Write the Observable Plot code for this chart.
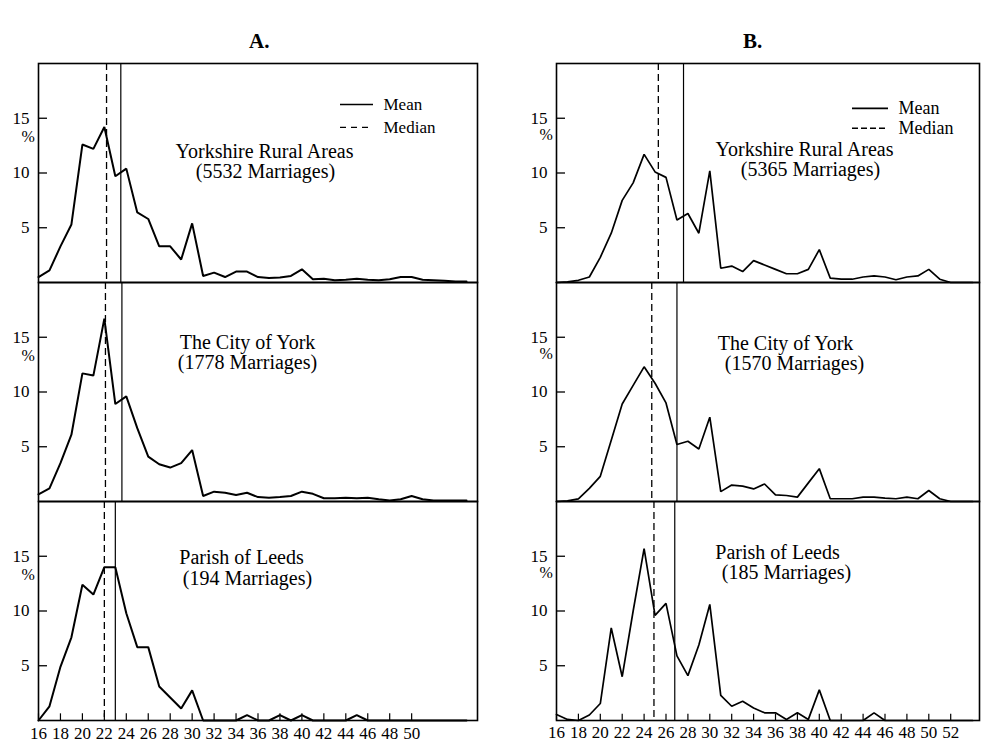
<!DOCTYPE html>
<html><head><meta charset="utf-8">
<script src="https://cdn.jsdelivr.net/npm/d3@7"></script>
<script src="https://cdn.jsdelivr.net/npm/@observablehq/plot@0.6"></script>
<style>
body{margin:0;background:#fff;}
#wrap{position:relative;width:981px;height:744px;overflow:hidden;font-family:"Liberation Serif",serif;background:#fff;}
.col{position:absolute;top:0;z-index:1;}
.title{position:absolute;top:29px;font-weight:bold;font-size:21px;font-family:"Liberation Serif",serif;z-index:5;color:#000;}
</style></head><body>
<div id="wrap">
  <div class="col" id="colA" style="left:0px"></div>
  <div class="col" id="colB" style="left:490px"></div>
  <div class="title" style="left:249px">A.</div>
  <div class="title" style="left:743px">B.</div>
</div>
<script>
// ---------- data ----------
const panels = ["rural", "york", "leeds"];
const placeNames = ["Yorkshire Rural Areas", "The City of York", "Parish of Leeds"];
const marriagesA = [5532, 1778, 194];
const marriagesB = [5365, 1570, 185];

const agesA = [16,17,18,19,20,21,22,23,24,25,26,27,28,29,30,31,32,33,34,35,36,37,38,39,40,41,42,43,44,45,46,47,48,49,50,51,52,53,54,55];
const ruralA = [0.5,1.1,3.3,5.3,12.6,12.2,14.2,9.7,10.4,6.4,5.8,3.3,3.3,2.1,5.4,0.6,0.9,0.5,1.0,1.0,0.5,0.4,0.45,0.6,1.2,0.3,0.35,0.2,0.25,0.35,0.25,0.2,0.3,0.5,0.5,0.25,0.2,0.15,0.1,0.1];
const yorkA  = [0.66,1.2,3.5,6.1,11.7,11.5,16.7,8.9,9.6,6.7,4.1,3.4,3.1,3.5,4.7,0.5,0.9,0.8,0.6,0.8,0.4,0.35,0.4,0.5,0.9,0.7,0.3,0.3,0.35,0.3,0.35,0.2,0.1,0.2,0.5,0.2,0.1,0.1,0.1,0.1];
const leedsA = [0,1.3,4.9,7.6,12.4,11.5,14.0,14.0,9.8,6.7,6.7,3.1,2.1,1.1,2.75,0,0,0,0,0.5,0,0,0.5,0,0.5,0,0,0,0,0.5,0,0,0,0,0,0,0,0,0,0];
const meanA   = [23.5, 23.6, 23.0];
const medianA = [22.2, 22.1, 22.0];

const agesB = [16,17,18,19,20,21,22,23,24,25,26,27,28,29,30,31,32,33,34,35,36,37,38,39,40,41,42,43,44,45,46,47,48,49,50,51,52,53,54];
const ruralB = [0,0.05,0.2,0.5,2.3,4.5,7.5,9.1,11.7,10.1,9.6,5.7,6.3,4.5,10.2,1.3,1.5,1.0,2.0,1.6,1.2,0.8,0.8,1.2,3.0,0.4,0.3,0.3,0.5,0.6,0.5,0.25,0.5,0.6,1.2,0.3,0,0,0];
const yorkB  = [0,0.05,0.24,1.2,2.3,5.6,8.9,10.6,12.3,10.8,9.0,5.2,5.5,4.8,7.7,0.9,1.5,1.4,1.15,1.6,0.6,0.55,0.4,1.7,3.0,0.25,0.25,0.25,0.4,0.4,0.3,0.25,0.4,0.25,1.0,0.25,0,0,0];
const leedsB = [0.55,0.1,0,0.5,1.55,8.45,4.0,10.0,15.7,9.6,10.7,5.9,4.1,6.9,10.6,2.3,1.3,1.75,1.15,0.7,0.7,0.1,0.7,0.1,2.8,0,0,0,0,0.7,0,0,0,0,0,0,0,0,0];
const meanB   = [27.6, 27.0, 26.8];
const medianB = [25.3, 24.7, 24.9];

const xTicksA = [16,18,20,22,24,26,28,30,32,34,36,38,40,42,44,46,48,50];
const xTicksB = [16,18,20,22,24,26,28,30,32,34,36,38,40,42,44,46,48,50,52];
const yTicks = [5, 10, 15];
const legendNames = ["Mean", "Median"];

// ---------- layout ----------
const H = 744, MT = 62;
const FONT = "Liberation Serif";

function column(cfg) {
  const {ages, series, means, medians, marriages, xTicks, xDomain, width, marginLeft, marginRight,
         marginBottom, labelPos, legend, lineWidth, pctY, xLabelDy} = cfg;
  const rows = [];
  series.forEach((s, i) => s.forEach((v, j) => rows.push({panel: panels[i], age: ages[j], pct: v})));
  const stats = panels.map((p, i) => ({panel: p, mean: means[i], median: medians[i]}));
  const plotW = width - marginLeft - marginRight;
  const panelH = (H - MT - marginBottom) / 3;
  const yAt = (dy) => 20 - dy / panelH * 20;

  const labelMarks = [];
  panels.forEach((p, i) => {
    const lp = labelPos[i];
    labelMarks.push(Plot.text([{panel: p, t: placeNames[i]}], {fy: "panel", text: "t", frameAnchor: "top-left",
      dx: lp[0], dy: lp[1], textAnchor: "middle", lineAnchor: "middle", fontSize: 20, fill: "black"}));
    labelMarks.push(Plot.text([{panel: p, t: `(${marriages[i]} Marriages)`}], {fy: "panel", text: "t", frameAnchor: "top-left",
      dx: lp[2], dy: lp[3], textAnchor: "middle", lineAnchor: "middle", fontSize: 20, fill: "black"}));
  });

  const legMarks = [];
  legendNames.forEach((name, k) => {
    const dy = legend.y[k];
    legMarks.push(Plot.tickY([{panel: "rural", v: yAt(dy)}], {y: "v", fy: "panel",
      insetLeft: legend.x1, insetRight: plotW - legend.x2, stroke: "black",
      strokeWidth: k === 0 ? 1.6 : 1.4, strokeDasharray: k === 0 ? null : legend.dash}));
    legMarks.push(Plot.text([{panel: "rural", t: name}], {fy: "panel", text: "t", frameAnchor: "top-left",
      dx: legend.tx, dy: dy, textAnchor: "start", lineAnchor: "middle", fontSize: legend.fs, fill: "black"}));
  });

  return Plot.plot({
    width, height: H, marginTop: MT, marginLeft, marginRight, marginBottom,
    x: {domain: xDomain, axis: null},
    y: {domain: [0, 20], axis: null},
    fy: {domain: panels, padding: 0, axis: null},
    style: {fontFamily: FONT, fontSize: "16px", color: "black", background: "white", overflow: "visible"},
    marks: [
      Plot.line(rows, {x: "age", y: "pct", fy: "panel", stroke: "black", strokeWidth: lineWidth, strokeLinejoin: "miter"}),
      Plot.ruleX(stats, {x: "median", fy: "panel", stroke: "black", strokeWidth: 1.3, strokeDasharray: "7,4"}),
      Plot.ruleX(stats, {x: "mean", fy: "panel", stroke: "black", strokeWidth: 1.2}),
      // y ticks (inward) and labels
      Plot.tickY(yTicks, {y: d => d, insetRight: plotW - 9, stroke: "black", strokeWidth: 1.3}),
      Plot.text(yTicks, {y: d => d, text: d => String(d), frameAnchor: "left", dx: -9, textAnchor: "end",
        lineAnchor: "middle", fontSize: 17, fill: "black", fontFamily: FONT}),
      Plot.text(["%"], {y: () => pctY, text: d => d, frameAnchor: "left", dx: -17, fontSize: 16, fill: "black", fontFamily: FONT}),
      // x ticks (inward) and labels on bottom panel
      Plot.tickX(xTicks.map(a => ({panel: "leeds", age: a})), {x: "age", fy: "panel", insetTop: panelH - 7, stroke: "black", strokeWidth: 1.2}),
      Plot.text(xTicks.map(a => ({panel: "leeds", age: a})), {x: "age", fy: "panel", text: d => String(d.age),
        frameAnchor: "bottom", dy: xLabelDy, lineAnchor: "middle", fontSize: 17, fill: "black", fontFamily: FONT}),
      Plot.frame({stroke: "black", strokeWidth: 1.6}),
      ...labelMarks,
      ...legMarks
    ]
  });
}

document.getElementById("colA").appendChild(column({
  ages: agesA, series: [ruralA, yorkA, leedsA], means: meanA, medians: medianA, marriages: marriagesA,
  xTicks: xTicksA, xDomain: [16, 56], width: 490, marginLeft: 38, marginRight: 13, marginBottom: 24,
  labelPos: [[226, 88, 227, 108], [209, 60, 209, 80], [203, 56, 209, 77]],
  legend: {x1: 302, x2: 335, tx: 345, y: [41, 64], fs: 17, dash: "6,5"},
  lineWidth: 2, pctY: 13.3, xLabelDy: 13
}));

document.getElementById("colB").appendChild(column({
  ages: agesB, series: [ruralB, yorkB, leedsB], means: meanB, medians: medianB, marriages: marriagesB,
  xTicks: xTicksB, xDomain: [16, 54.63], width: 491, marginLeft: 66, marginRight: 2, marginBottom: 23,
  labelPos: [[248, 86, 254, 106], [229, 61, 238, 81], [221, 51, 230, 71]],
  legend: {x1: 296, x2: 332, tx: 342, y: [45, 65], fs: 18, dash: "6,3"},
  lineWidth: 1.7, pctY: 13.5, xLabelDy: 12
}));
</script>
</body></html>
